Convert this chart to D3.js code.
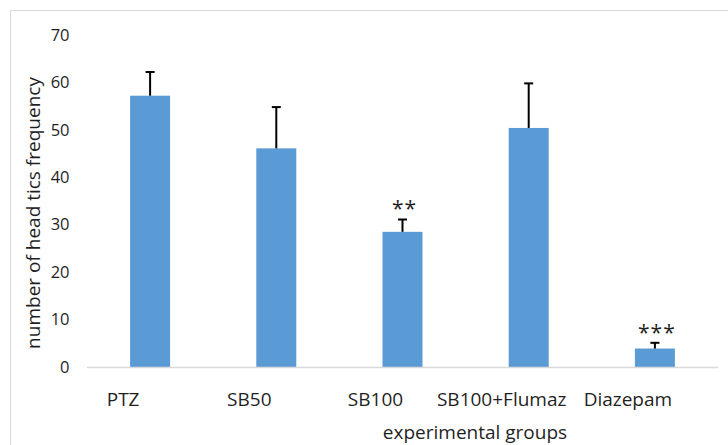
<!DOCTYPE html>
<html>
<head>
<meta charset="utf-8">
<script src="https://cdn.jsdelivr.net/npm/d3@7"></script>
<style>
  html, body { margin: 0; padding: 0; background: #fff; }
  svg { display: block; font-family: "Open Sans", "Noto Sans", sans-serif; }
</style>
</head>
<body>
<script>
// Group names, mean values, error (SD) and significance marks
const groups = ["PTZ", "SB50", "SB100", "SB100+Flumaz", "Diazepam"];
const means = [57.2, 46.1, 28.5, 50.4, 3.9];
const errors = [5.0, 8.7, 2.6, 9.4, 1.2];
const stars = ["", "", "**", "", "***"];
const yTicks = [0, 10, 20, 30, 40, 50, 60, 70];

const W = 728, H = 445;
const plot = { left: 87, right: 718, top: 35, bottom: 367 };

const svg = d3.select("body").append("svg")
  .attr("width", W).attr("height", H);

// chart frame
svg.append("rect")
  .attr("x", 10.5).attr("y", 10.5)
  .attr("width", W + 20).attr("height", H + 20)
  .attr("fill", "none").attr("stroke", "#d9d9d9").attr("stroke-width", 1);

const x = d3.scaleBand().domain(groups).range([plot.left, plot.right]).padding(0);
const y = d3.scaleLinear().domain([0, 70]).range([plot.bottom, plot.top]);
const barW = x.bandwidth() * 0.317;

// y axis: labels only
const yAxis = svg.append("g")
  .attr("transform", `translate(${plot.left - 17.5},0)`)
  .call(d3.axisLeft(y).tickValues(yTicks).tickSize(0).tickPadding(0));
yAxis.select(".domain").remove();
yAxis.selectAll("text")
  .attr("font-size", 16.5).attr("fill", "#1f1f1f")
  .attr("font-family", "Open Sans, sans-serif");

// bars
svg.append("g").selectAll("rect")
  .data(groups)
  .join("rect")
  .attr("x", d => x(d) + x.bandwidth() / 2 - barW / 2)
  .attr("y", (d, i) => y(means[i]))
  .attr("width", barW)
  .attr("height", (d, i) => y(0) - y(means[i]))
  .attr("fill", "#5b9bd5");

// baseline
svg.append("line")
  .attr("x1", plot.left).attr("x2", plot.right)
  .attr("y1", plot.bottom + 0.5).attr("y2", plot.bottom + 0.5)
  .attr("stroke", "#d9d9d9").attr("stroke-width", 1.5);

// upper error bars
const eb = svg.append("g").attr("stroke", "#000").attr("stroke-width", 2);
groups.forEach((g, i) => {
  const cx = x(g) + x.bandwidth() / 2;
  eb.append("line")
    .attr("x1", cx).attr("x2", cx)
    .attr("y1", y(means[i])).attr("y2", y(means[i] + errors[i]));
  eb.append("line")
    .attr("x1", cx - 4.5).attr("x2", cx + 4.5)
    .attr("y1", y(means[i] + errors[i])).attr("y2", y(means[i] + errors[i]));
});

// significance marks
svg.append("g").selectAll("text")
  .data(groups.filter((g, i) => stars[i]))
  .join("text")
  .attr("x", g => x(g) + x.bandwidth() / 2 + 2)
  .attr("y", g => { const i = groups.indexOf(g); return y(means[i] + errors[i]) - 3; })
  .attr("text-anchor", "middle")
  .attr("font-size", 21)
  .attr("letter-spacing", 1)
  .attr("fill", "#1f1f1f")
  .text(g => stars[groups.indexOf(g)]);

// category labels
svg.append("g").selectAll("text")
  .data(groups)
  .join("text")
  .attr("x", g => x(g) + x.bandwidth() / 2 - 27)
  .attr("y", 406)
  .attr("text-anchor", "middle")
  .attr("font-size", 19)
  .attr("fill", "#1f1f1f")
  .text(g => g);

// axis titles
svg.append("text")
  .attr("transform", "translate(40,213) rotate(-90)")
  .attr("text-anchor", "middle")
  .attr("font-size", 19)
  .attr("fill", "#1f1f1f")
  .text("number of head tics frequency");

svg.append("text")
  .attr("x", 475).attr("y", 439)
  .attr("text-anchor", "middle")
  .attr("font-size", 19)
  .attr("fill", "#1f1f1f")
  .text("experimental groups");
</script>
</body>
</html>
